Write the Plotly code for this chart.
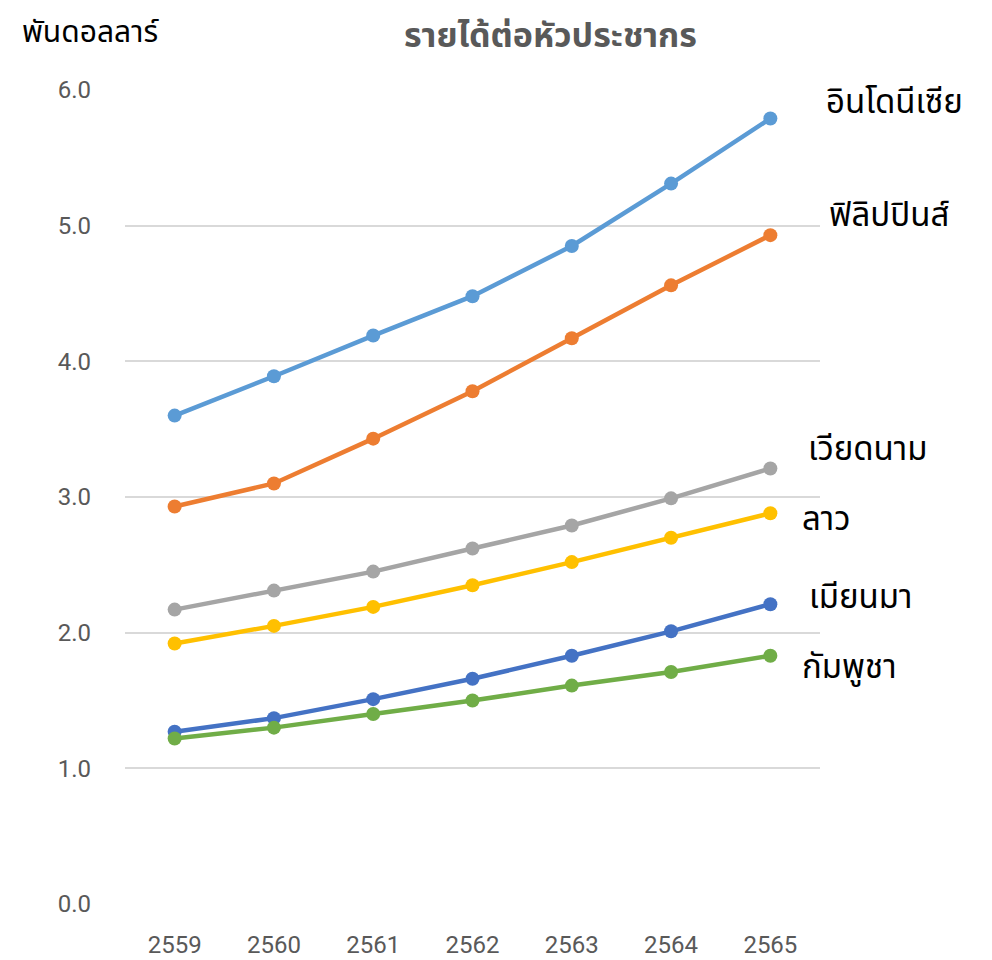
import plotly.graph_objects as go

years = ["2559", "2560", "2561", "2562", "2563", "2564", "2565"]
countries = ["อินโดนีเซีย", "ฟิลิปปินส์", "เวียดนาม", "ลาว", "เมียนมา", "กัมพูชา"]
indonesia = [3.60, 3.89, 4.19, 4.48, 4.85, 5.31, 5.79]
philippines = [2.93, 3.10, 3.43, 3.78, 4.17, 4.56, 4.93]
vietnam = [2.17, 2.31, 2.45, 2.62, 2.79, 2.99, 3.21]
laos = [1.92, 2.05, 2.19, 2.35, 2.52, 2.70, 2.88]
myanmar = [1.27, 1.37, 1.51, 1.66, 1.83, 2.01, 2.21]
cambodia = [1.22, 1.30, 1.40, 1.50, 1.61, 1.71, 1.83]
series = [indonesia, philippines, vietnam, laos, myanmar, cambodia]
colors = ["#5B9BD5", "#ED7D31", "#A5A5A5", "#FFC000", "#4472C4", "#70AD47"]
yticks = [0, 1, 2, 3, 4, 5, 6]
ytick_text = ["0.0", "1.0", "2.0", "3.0", "4.0", "5.0", "6.0"]

# label positions (paper coords) for the end-of-line country labels
label_pos = [(1.006, 0.984), (1.010, 0.845), (0.980, 0.558), (0.971, 0.472), (0.981, 0.376), (0.971, 0.290)]

thai_font = "Noto Sans Thai, Noto Sans, sans-serif"
num_font = "Liberation Sans Narrow, Roboto, sans-serif"

fig = go.Figure()
for name, vals, col in zip(countries, series, colors):
    fig.add_trace(go.Scatter(
        x=years, y=vals, name=name, mode="lines+markers",
        line=dict(color=col, width=4.5),
        marker=dict(color=col, size=14),
        showlegend=False, cliponaxis=False,
    ))

for name, (px, py) in zip(countries, label_pos):
    fig.add_annotation(text=name, xref="paper", yref="paper", x=px, y=py,
                       xanchor="left", yanchor="middle", showarrow=False,
                       font=dict(family=thai_font, size=33, color="#000000"))

fig.add_annotation(text="พันดอลลาร์", xref="paper", yref="paper", x=-0.151, y=1.070,
                   xanchor="left", yanchor="middle", showarrow=False,
                   font=dict(family=thai_font, size=30, color="#000000"))

fig.add_annotation(text="<b>รายได้ต่อหัวประชากร</b>", xref="paper", yref="paper", x=0.612, y=1.066,
                   xanchor="center", yanchor="middle", showarrow=False,
                   font=dict(family=thai_font, size=34, color="#595959"))

fig.update_layout(
    width=992, height=960,
    margin=dict(l=117, r=180, t=82, b=64, autoexpand=False),
    paper_bgcolor="white", plot_bgcolor="white",
    xaxis=dict(type="category", range=[-0.5, 6.5], showgrid=False, showline=False, zeroline=False,
               ticks="", ticklabelstandoff=24, automargin=False,
               tickfont=dict(family=num_font, size=24, color="#595959")),
    yaxis=dict(range=[0, 6], tickvals=yticks, ticktext=ytick_text, showgrid=True,
               gridcolor="#D9D9D9", gridwidth=1.5, zeroline=False, showline=False,
               ticks="", ticklabelstandoff=33, automargin=False,
               tickfont=dict(family=num_font, size=24, color="#595959")),
)

fig.write_html("out.html")
